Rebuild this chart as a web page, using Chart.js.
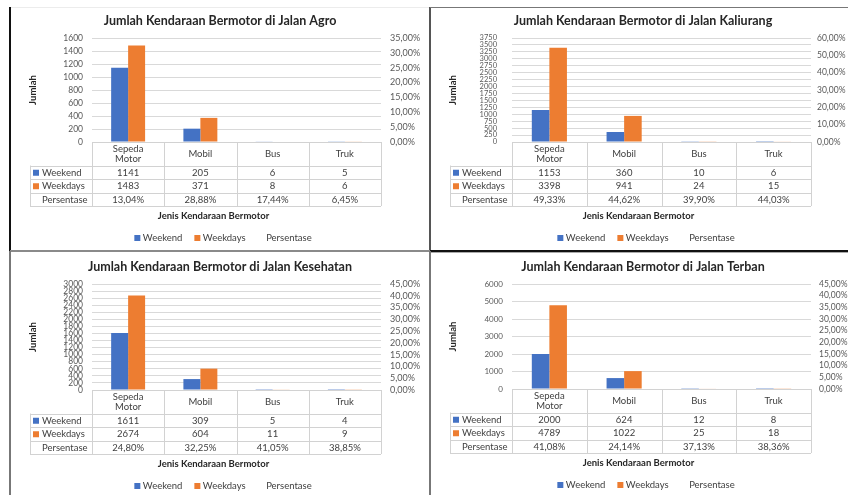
<!DOCTYPE html>
<html>
<head>
<meta charset="utf-8">
<script src="https://cdn.jsdelivr.net/npm/chart.js@4.4.1/dist/chart.umd.min.js"></script>
<style>
  html, body { margin: 0; padding: 0; background: #fff; }
  body { position: relative; width: 848px; height: 495px; overflow: hidden; }
  .panel { position: absolute; }
  .panel canvas { display: block; }
  .rule { position: absolute; }
</style>
</head>
<body>
<div class="panel" style="left:10px;top:7px"><canvas id="cAgro" width="420" height="244"></canvas></div>
<div class="panel" style="left:430px;top:7px"><canvas id="cKaliurang" width="426" height="244"></canvas></div>
<div class="panel" style="left:10px;top:251px"><canvas id="cKesehatan" width="420" height="244"></canvas></div>
<div class="panel" style="left:430px;top:251px"><canvas id="cTerban" width="426" height="244"></canvas></div>

<!-- frame lines between the four panels -->
<div class="rule" style="left:10px;top:7px;width:420px;height:1px;background:#ececec"></div>
<div class="rule" style="left:9px;top:7px;width:2px;height:244px;background:#111"></div>
<div class="rule" style="left:429px;top:7px;width:2px;height:244px;background:#555"></div>
<div class="rule" style="left:430px;top:7px;width:418px;height:1px;background:#777"></div>
<div class="rule" style="left:10px;top:250px;width:420px;height:2px;background:#8a8a8a"></div>
<div class="rule" style="left:430px;top:250px;width:418px;height:2px;background:#111"></div>
<div class="rule" style="left:430px;top:252px;width:418px;height:1px;background:#aaa"></div>
<div class="rule" style="left:9px;top:251px;width:2px;height:244px;background:#777"></div>
<div class="rule" style="left:429px;top:251px;width:2px;height:244px;background:#777"></div>

<script>
// ---- shared labels ----
const categories = [['Sepeda', 'Motor'], 'Mobil', 'Bus', 'Truk'];
const seriesNames = ['Weekend', 'Weekdays', 'Persentase'];
const seriesColors = ['#4472C4', '#ED7D31'];
const yAxisTitle = 'Jumlah';
const xAxisTitle = 'Jenis Kendaraan Bermotor';

// ---- Jalan Agro ----
const agroTitle = 'Jumlah Kendaraan Bermotor di Jalan Agro';
const agroWeekend = [1141, 205, 6, 5];
const agroWeekdays = [1483, 371, 8, 6];
const agroPersen = [13.04, 28.88, 17.44, 6.45];
const agroCountTicks = [0, 200, 400, 600, 800, 1000, 1200, 1400, 1600];
const agroPersenTicks = [0, 5, 10, 15, 20, 25, 30, 35];

// ---- Jalan Kaliurang ----
const kaliurangTitle = 'Jumlah Kendaraan Bermotor di Jalan Kaliurang';
const kaliurangWeekend = [1153, 360, 10, 6];
const kaliurangWeekdays = [3398, 941, 24, 15];
const kaliurangPersen = [49.33, 44.62, 39.90, 44.03];
const kaliurangCountTicks = [0, 250, 500, 750, 1000, 1250, 1500, 1750, 2000, 2250, 2500, 2750, 3000, 3250, 3500, 3750];
const kaliurangPersenTicks = [0, 10, 20, 30, 40, 50, 60];

// ---- Jalan Kesehatan ----
const kesehatanTitle = 'Jumlah Kendaraan Bermotor di Jalan Kesehatan';
const kesehatanWeekend = [1611, 309, 5, 4];
const kesehatanWeekdays = [2674, 604, 11, 9];
const kesehatanPersen = [24.80, 32.25, 41.05, 38.85];
const kesehatanCountTicks = [0, 200, 400, 600, 800, 1000, 1200, 1400, 1600, 1800, 2000, 2200, 2400, 2600, 2800, 3000];
const kesehatanPersenTicks = [0, 5, 10, 15, 20, 25, 30, 35, 40, 45];

// ---- Jalan Terban ----
const terbanTitle = 'Jumlah Kendaraan Bermotor di Jalan Terban';
const terbanWeekend = [2000, 624, 12, 8];
const terbanWeekdays = [4789, 1022, 25, 18];
const terbanPersen = [41.08, 24.14, 37.13, 38.36];
const terbanCountTicks = [0, 1000, 2000, 3000, 4000, 5000, 6000];
const terbanPersenTicks = [0, 5, 10, 15, 20, 25, 30, 35, 40, 45];

const FONT = 'Lato, "Open Sans", "Liberation Sans", sans-serif';
const TEXT = '#404040';

function pct(v) { return v.toFixed(2).replace('.', ',') + '%'; }

// Title, axis titles, data table under the category axis and the legend.
const panelDecor = {
  id: 'panelDecor',
  afterDraw(chart, args, o) {
    const ctx = chart.ctx;
    const a = chart.chartArea;
    const xs = chart.scales.x;
    const n = chart.data.labels.length;
    const colW = (xs.right - xs.left) / n;
    const sets = chart.data.datasets;
    const px = v => Math.round(v) + 0.5;

    ctx.save();
    ctx.textBaseline = 'middle';

    // chart title
    ctx.fillStyle = '#262626';
    ctx.textAlign = 'center';
    ctx.font = `bold 12.5px ${FONT}`;
    ctx.fillText(o.title, chart.width / 2 + o.titleShift, a.top - 17);

    // value axis title
    ctx.save();
    ctx.translate(22.5, (a.top + a.bottom) / 2);
    ctx.rotate(-Math.PI / 2);
    ctx.font = `bold 9.5px ${FONT}`;
    ctx.fillText(yAxisTitle, 0, 0);
    ctx.restore();

    // data table
    const tl = 20;
    const hb = a.bottom + 23.5;
    const rh = 13.5;
    const tb = hb + rh * sets.length;
    ctx.strokeStyle = '#d2d2d2';
    ctx.lineWidth = 1;
    ctx.beginPath();
    ctx.moveTo(a.left, px(a.bottom)); ctx.lineTo(a.right, px(a.bottom));
    for (let r = 0; r <= sets.length; r++) {
      const y = px(hb + r * rh);
      ctx.moveTo(tl, y); ctx.lineTo(a.right, y);
    }
    ctx.moveTo(px(tl), hb); ctx.lineTo(px(tl), tb);
    for (let i = 0; i <= n; i++) {
      const x = px(xs.left + i * colW);
      ctx.moveTo(x, a.bottom); ctx.lineTo(x, tb);
    }
    ctx.stroke();

    ctx.fillStyle = TEXT;
    ctx.font = `9.5px ${FONT}`;
    ctx.textAlign = 'center';
    chart.data.labels.forEach((lab, i) => {
      const lines = Array.isArray(lab) ? lab : [lab];
      const cx = xs.getPixelForValue(i);
      const cy = (a.bottom + hb) / 2;
      const lh = 9.5;
      lines.forEach((t, k) => ctx.fillText(t, cx, cy + (k - (lines.length - 1) / 2) * lh));
    });

    sets.forEach((ds, r) => {
      const cy = hb + r * rh + rh / 2 + 0.5;
      ctx.textAlign = 'left';
      if (ds.type !== 'line') {
        ctx.fillStyle = ds.backgroundColor;
        ctx.fillRect(tl + 3, cy - 3, 6, 6);
      }
      ctx.fillStyle = TEXT;
      ctx.fillText(ds.label, tl + 12, cy);
      ctx.textAlign = 'center';
      ds.data.forEach((v, i) => {
        ctx.fillText(ds.type === 'line' ? pct(v) : String(v), xs.getPixelForValue(i), cy);
      });
    });

    // category axis title
    ctx.fillStyle = '#262626';
    ctx.font = `bold 9.5px ${FONT}`;
    ctx.textAlign = 'center';
    ctx.fillText(xAxisTitle, (tl + a.right) / 2 + 8, a.bottom + 73.5);

    // legend
    ctx.font = `9.5px ${FONT}`;
    const box = 6, gap = 2.5, spacing = 12;
    const widths = sets.map(ds => box + gap + ctx.measureText(ds.label).width);
    const total = widths.reduce((s, w) => s + w, 0) + spacing * (sets.length - 1);
    let x = chart.width / 2 + o.titleShift + 3 - total / 2;
    const ly = a.bottom + 96;
    ctx.textAlign = 'left';
    sets.forEach((ds, i) => {
      if (ds.type !== 'line') {
        ctx.fillStyle = ds.backgroundColor;
        ctx.fillRect(x, ly - 3, box, box);
      }
      ctx.fillStyle = TEXT;
      ctx.fillText(ds.label, x + box + gap, ly);
      x += widths[i] + spacing;
    });
    ctx.restore();
  }
};

function drawPanel(id, p) {
  const canvas = document.getElementById(id);
  const W = canvas.width, H = canvas.height;
  new Chart(canvas, {
    type: 'bar',
    data: {
      labels: categories,
      datasets: [
        { label: seriesNames[0], data: p.weekend, backgroundColor: seriesColors[0], yAxisID: 'y', order: 2 },
        { label: seriesNames[1], data: p.weekdays, backgroundColor: seriesColors[1], yAxisID: 'y', order: 2 },
        { type: 'line', label: seriesNames[2], data: p.persen, yAxisID: 'y1', showLine: false,
          pointRadius: 0, borderColor: 'rgba(0,0,0,0)', backgroundColor: 'rgba(0,0,0,0)', order: 1 }
      ]
    },
    options: {
      responsive: false,
      animation: false,
      events: [],
      layout: { padding: { top: p.top, left: 0, right: 0, bottom: 0 } },
      datasets: { bar: { categoryPercentage: 0.47, barPercentage: 1.0 } },
      scales: {
        x: {
          grid: { display: false },
          border: { display: false },
          ticks: { display: false },
          afterFit(s) { s.height = H - p.bottom; }
        },
        y: {
          position: 'left',
          min: p.countTicks[0],
          max: p.countTicks[p.countTicks.length - 1],
          afterBuildTicks(s) { s.ticks = p.countTicks.map(v => ({ value: v })); },
          afterFit(s) { s.width = 82; },
          grid: { color: '#d9d9d9', lineWidth: 1, drawTicks: false },
          border: { display: false },
          ticks: { autoSkip: false, padding: p.leftPad, color: '#595959',
                   font: { family: FONT, size: p.tickSize },
                   callback: v => String(v) }
        },
        y1: {
          position: 'right',
          min: p.persenTicks[0],
          max: p.persenTicks[p.persenTicks.length - 1],
          afterBuildTicks(s) { s.ticks = p.persenTicks.map(v => ({ value: v })); },
          afterFit(s) { s.width = W - p.right; },
          grid: { display: false, drawTicks: false },
          border: { display: false },
          ticks: { autoSkip: false, padding: p.rightPad, color: '#595959',
                   font: { family: FONT, size: p.pctSize },
                   callback: v => pct(v) }
        }
      },
      plugins: {
        legend: { display: false },
        title: { display: false },
        tooltip: { enabled: false },
        panelDecor: { title: p.title, titleShift: p.titleShift }
      }
    },
    plugins: [panelDecor]
  });
}

drawPanel('cAgro', {
  title: agroTitle, weekend: agroWeekend, weekdays: agroWeekdays, persen: agroPersen,
  countTicks: agroCountTicks, persenTicks: agroPersenTicks,
  top: 31, bottom: 135, right: 371, tickSize: 8.5, pctSize: 9, leftPad: 9, rightPad: 9, titleShift: 0
});
drawPanel('cKaliurang', {
  title: kaliurangTitle, weekend: kaliurangWeekend, weekdays: kaliurangWeekdays, persen: kaliurangPersen,
  countTicks: kaliurangCountTicks, persenTicks: kaliurangPersenTicks,
  top: 31, bottom: 135, right: 381, tickSize: 7.5, pctSize: 8.5, leftPad: 15, rightPad: 6, titleShift: 0
});
drawPanel('cKesehatan', {
  title: kesehatanTitle, weekend: kesehatanWeekend, weekdays: kesehatanWeekdays, persen: kesehatanPersen,
  countTicks: kesehatanCountTicks, persenTicks: kesehatanPersenTicks,
  top: 33, bottom: 139, right: 371, tickSize: 8.5, pctSize: 9, leftPad: 9, rightPad: 9, titleShift: 0
});
drawPanel('cTerban', {
  title: terbanTitle, weekend: terbanWeekend, weekdays: terbanWeekdays, persen: terbanPersen,
  countTicks: terbanCountTicks, persenTicks: terbanPersenTicks,
  top: 33, bottom: 138, right: 381, tickSize: 8, pctSize: 8.5, leftPad: 9, rightPad: 8, titleShift: 0
});
</script>
</body>
</html>
